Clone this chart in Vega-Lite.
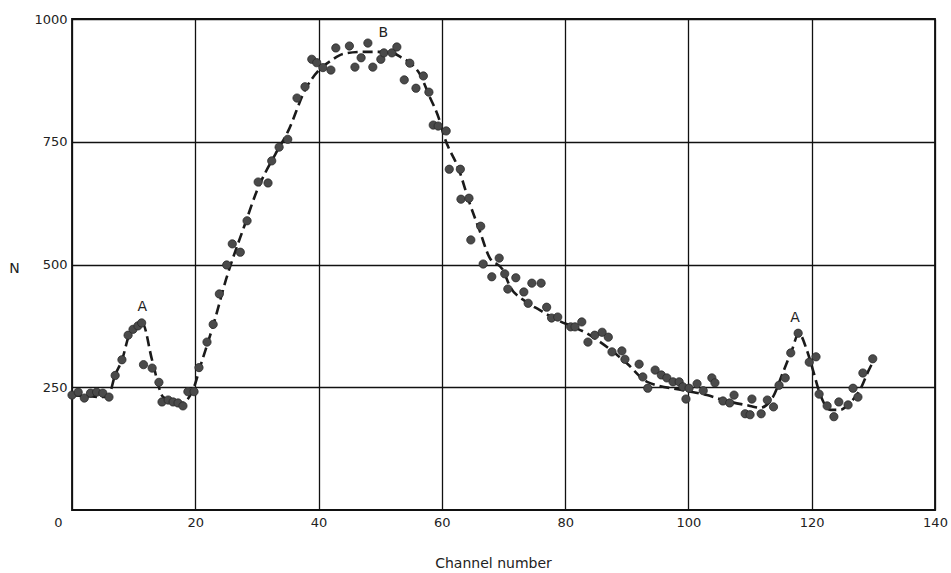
{
  "$schema": "https://vega.github.io/schema/vega-lite/v6.json",
  "autosize": "none",
  "width": 863,
  "height": 491,
  "padding": {"left": 72, "top": 19, "right": 16, "bottom": 63},
  "background": "white",
  "config": {
    "view": {"stroke": "#111", "strokeWidth": 1.8},
    "font": "DejaVu Sans",
    "axis": {"labelFont": "DejaVu Sans", "titleFont": "DejaVu Sans", "labelColor": "#222", "titleColor": "#222", "titleFontWeight": "normal"}
  },
  "datasets": {
    "points": [
      {"channel": 0, "N": 234}, {"channel": 1, "N": 240}, {"channel": 2, "N": 228}, {"channel": 3, "N": 238}, {"channel": 4, "N": 240}, {"channel": 5, "N": 238}, {"channel": 6, "N": 230},
      {"channel": 7, "N": 274}, {"channel": 8.1, "N": 306}, {"channel": 9.1, "N": 356}, {"channel": 9.9, "N": 368}, {"channel": 10.7, "N": 375}, {"channel": 11.3, "N": 381},
      {"channel": 11.6, "N": 296}, {"channel": 13, "N": 289}, {"channel": 14.1, "N": 260}, {"channel": 14.6, "N": 220}, {"channel": 15.6, "N": 224}, {"channel": 16.4, "N": 220},
      {"channel": 17.2, "N": 218}, {"channel": 18, "N": 212}, {"channel": 18.8, "N": 241}, {"channel": 19.8, "N": 241}, {"channel": 20.6, "N": 290}, {"channel": 21.9, "N": 342},
      {"channel": 22.9, "N": 378}, {"channel": 23.9, "N": 440}, {"channel": 25.1, "N": 499}, {"channel": 26, "N": 542}, {"channel": 27.3, "N": 525}, {"channel": 28.4, "N": 589},
      {"channel": 30.2, "N": 668}, {"channel": 31.8, "N": 666}, {"channel": 32.4, "N": 711}, {"channel": 33.6, "N": 739}, {"channel": 35, "N": 755}, {"channel": 36.5, "N": 839},
      {"channel": 37.8, "N": 862}, {"channel": 38.9, "N": 918}, {"channel": 39.7, "N": 911}, {"channel": 40.7, "N": 901}, {"channel": 42, "N": 896}, {"channel": 42.8, "N": 941},
      {"channel": 45, "N": 945}, {"channel": 45.9, "N": 902}, {"channel": 46.9, "N": 921}, {"channel": 48, "N": 951}, {"channel": 48.8, "N": 902}, {"channel": 50.1, "N": 918},
      {"channel": 50.6, "N": 931}, {"channel": 51.9, "N": 931}, {"channel": 52.7, "N": 943}, {"channel": 53.9, "N": 876}, {"channel": 54.8, "N": 910}, {"channel": 55.8, "N": 859},
      {"channel": 57, "N": 884}, {"channel": 57.9, "N": 851}, {"channel": 58.6, "N": 784}, {"channel": 59.4, "N": 782}, {"channel": 60.7, "N": 772}, {"channel": 61.2, "N": 694},
      {"channel": 63, "N": 694}, {"channel": 63.1, "N": 633}, {"channel": 64.4, "N": 635}, {"channel": 64.7, "N": 550}, {"channel": 66.3, "N": 578}, {"channel": 66.7, "N": 501},
      {"channel": 68.1, "N": 475}, {"channel": 69.3, "N": 513}, {"channel": 70.2, "N": 481}, {"channel": 70.7, "N": 450}, {"channel": 72, "N": 473}, {"channel": 73.3, "N": 444},
      {"channel": 74, "N": 421}, {"channel": 74.6, "N": 462}, {"channel": 76.1, "N": 462}, {"channel": 77, "N": 413}, {"channel": 77.8, "N": 391}, {"channel": 78.8, "N": 393},
      {"channel": 80.9, "N": 373}, {"channel": 81.6, "N": 373}, {"channel": 82.7, "N": 383}, {"channel": 83.7, "N": 342}, {"channel": 84.8, "N": 356}, {"channel": 86, "N": 362},
      {"channel": 87, "N": 352}, {"channel": 87.6, "N": 322}, {"channel": 89.2, "N": 324}, {"channel": 89.7, "N": 307}, {"channel": 92, "N": 297}, {"channel": 92.6, "N": 271},
      {"channel": 93.4, "N": 248}, {"channel": 94.6, "N": 285}, {"channel": 95.6, "N": 275}, {"channel": 96.5, "N": 269}, {"channel": 97.5, "N": 261}, {"channel": 98.5, "N": 261},
      {"channel": 99.1, "N": 251}, {"channel": 99.6, "N": 226}, {"channel": 100.1, "N": 248}, {"channel": 101.4, "N": 257}, {"channel": 102.4, "N": 243}, {"channel": 103.8, "N": 269},
      {"channel": 104.3, "N": 259}, {"channel": 105.6, "N": 222}, {"channel": 106.7, "N": 218}, {"channel": 107.4, "N": 234}, {"channel": 109.2, "N": 196}, {"channel": 110, "N": 194},
      {"channel": 110.3, "N": 226}, {"channel": 111.8, "N": 196}, {"channel": 112.8, "N": 224}, {"channel": 113.8, "N": 210}, {"channel": 114.7, "N": 254}, {"channel": 115.7, "N": 269},
      {"channel": 116.6, "N": 320}, {"channel": 117.8, "N": 360}, {"channel": 119.6, "N": 301}, {"channel": 120.7, "N": 312}, {"channel": 121.2, "N": 236}, {"channel": 122.5, "N": 212},
      {"channel": 123.6, "N": 190}, {"channel": 124.4, "N": 220}, {"channel": 125.9, "N": 214}, {"channel": 126.7, "N": 248}, {"channel": 127.5, "N": 230}, {"channel": 128.3, "N": 279},
      {"channel": 129.9, "N": 308}
    ],
    "curve": [
      {"channel": 0, "N": 234}, {"channel": 5.8, "N": 230}, {"channel": 7, "N": 275}, {"channel": 8.1, "N": 305}, {"channel": 9.4, "N": 360}, {"channel": 11.4, "N": 381},
      {"channel": 13, "N": 305}, {"channel": 14.8, "N": 230}, {"channel": 17.8, "N": 218}, {"channel": 19.6, "N": 244}, {"channel": 21, "N": 300}, {"channel": 23, "N": 380},
      {"channel": 25, "N": 470}, {"channel": 28, "N": 580}, {"channel": 30, "N": 650}, {"channel": 33, "N": 725}, {"channel": 35, "N": 770}, {"channel": 38, "N": 860},
      {"channel": 40, "N": 895}, {"channel": 42, "N": 915}, {"channel": 44, "N": 929}, {"channel": 47, "N": 933}, {"channel": 50, "N": 933}, {"channel": 52, "N": 931},
      {"channel": 53.5, "N": 921}, {"channel": 54.9, "N": 910}, {"channel": 56.5, "N": 886}, {"channel": 57.9, "N": 845}, {"channel": 59.5, "N": 798}, {"channel": 60.4, "N": 760},
      {"channel": 62.8, "N": 692}, {"channel": 64.5, "N": 625}, {"channel": 66.1, "N": 570}, {"channel": 67.7, "N": 515}, {"channel": 69.9, "N": 489}, {"channel": 71.1, "N": 454},
      {"channel": 73.2, "N": 428}, {"channel": 75.9, "N": 407}, {"channel": 78.7, "N": 387}, {"channel": 81.3, "N": 373}, {"channel": 83.5, "N": 360}, {"channel": 85.7, "N": 342},
      {"channel": 90, "N": 299}, {"channel": 93.3, "N": 261}, {"channel": 99.1, "N": 244}, {"channel": 103, "N": 234}, {"channel": 105.6, "N": 224}, {"channel": 110, "N": 212},
      {"channel": 111.6, "N": 208}, {"channel": 113.7, "N": 230}, {"channel": 115.3, "N": 279}, {"channel": 116.8, "N": 326}, {"channel": 117.9, "N": 360}, {"channel": 119.2, "N": 326},
      {"channel": 120.2, "N": 285}, {"channel": 121.3, "N": 238}, {"channel": 123, "N": 204}, {"channel": 124.6, "N": 204}, {"channel": 126.2, "N": 218}, {"channel": 127.8, "N": 244},
      {"channel": 129.5, "N": 291}, {"channel": 130, "N": 302}
    ],
    "labels": [
      {"channel": 11.4, "N": 414, "label": "A"},
      {"channel": 50.5, "N": 971, "label": "B"},
      {"channel": 117.3, "N": 391, "label": "A"}
    ]
  },
  "layer": [
    {
      "data": {"name": "curve"},
      "mark": {"type": "line", "color": "#1a1a1a", "strokeWidth": 2.6, "strokeDash": [10, 5], "interpolate": "monotone"},
      "encoding": {
        "x": {
          "field": "channel", "type": "quantitative",
          "scale": {"domain": [0, 140], "nice": false, "zero": false},
          "axis": {
            "values": [0, 20, 40, 60, 80, 100, 120, 140],
            "format": "d",
            "grid": true, "gridColor": "#111", "gridWidth": 1.3,
            "domain": false, "ticks": false,
            "labelFontSize": 13, "labelPadding": 6,
            "labelOffset": {"condition": {"test": "datum.value == 0", "value": -14}, "value": 0},
            "labelFlush": false,
            "title": "Channel number", "titleFontSize": 14,
            "titleX": 421, "titleY": 53, "titleBaseline": "middle", "titleAlign": "center"
          }
        },
        "y": {
          "field": "N", "type": "quantitative",
          "scale": {"domain": [0, 1000], "nice": false},
          "axis": {
            "values": [250, 500, 750, 1000],
            "format": "d",
            "grid": true, "gridColor": "#111", "gridWidth": 1.3,
            "domain": false, "ticks": false,
            "labelFontSize": 13, "labelPadding": 5, "labelFlush": false,
            "title": "N", "titleAngle": 0, "titleFontSize": 14,
            "titleX": -58, "titleY": 249, "titleAlign": "center", "titleBaseline": "middle"
          }
        }
      }
    },
    {
      "data": {"name": "points"},
      "mark": {"type": "point", "shape": "circle", "filled": true, "size": 68, "color": "#4a4a4a", "opacity": 1, "stroke": "#2a2a2a", "strokeWidth": 0.8},
      "encoding": {
        "x": {"field": "channel", "type": "quantitative"},
        "y": {"field": "N", "type": "quantitative"}
      }
    },
    {
      "data": {"name": "labels"},
      "mark": {"type": "text", "fontSize": 14, "color": "#222", "align": "center", "baseline": "middle", "font": "DejaVu Sans"},
      "encoding": {
        "x": {"field": "channel", "type": "quantitative"},
        "y": {"field": "N", "type": "quantitative"},
        "text": {"field": "label"}
      }
    }
  ]
}
